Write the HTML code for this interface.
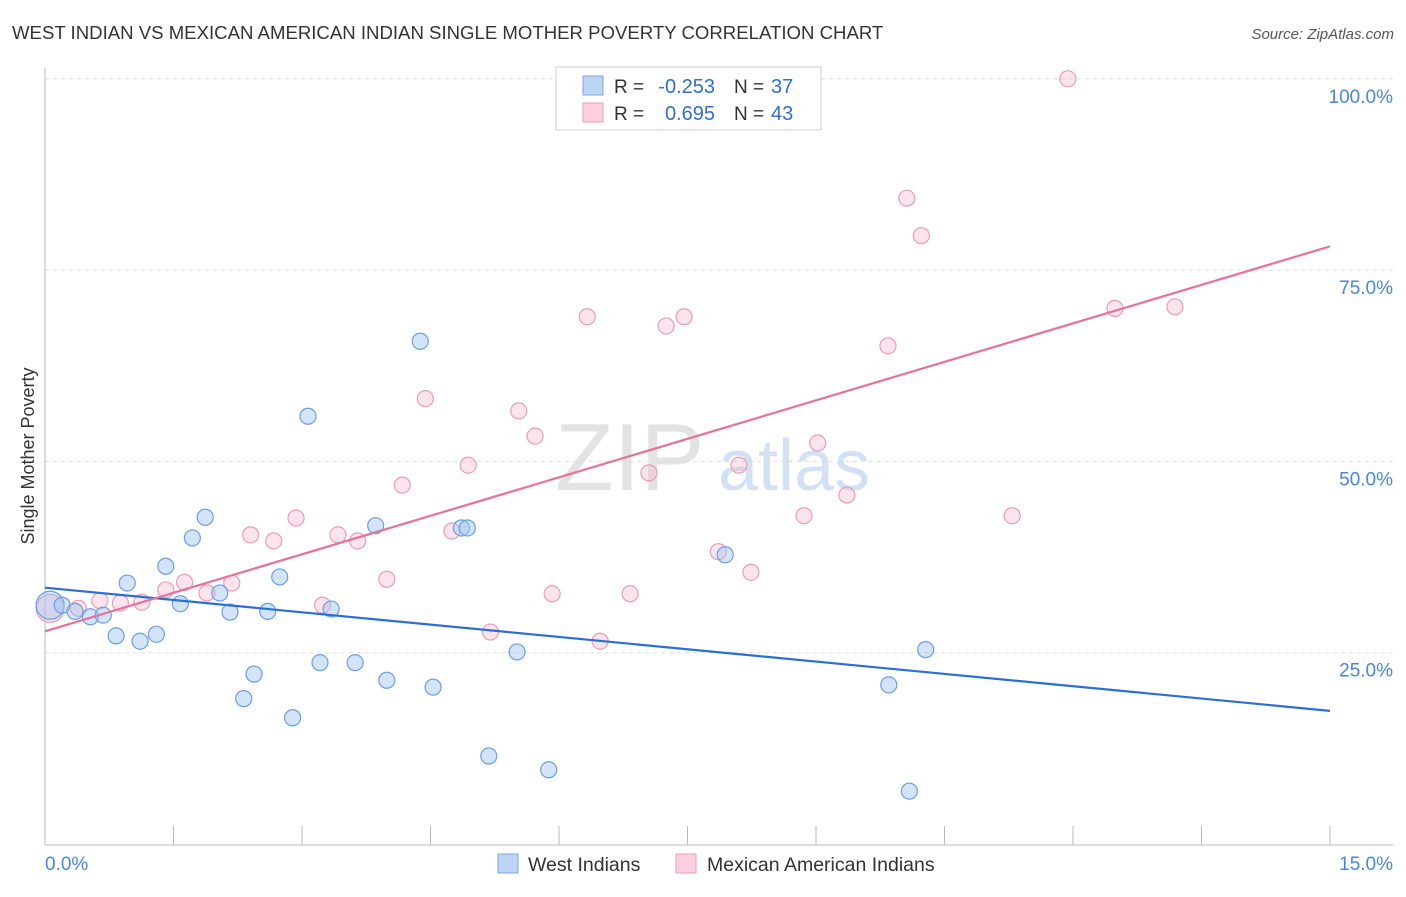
<!DOCTYPE html>
<html><head><meta charset="utf-8"><style>
body{margin:0;background:#fff;font-family:"Liberation Sans",sans-serif;}
svg text{font-family:"Liberation Sans",sans-serif;}
</style></head><body>
<svg id="chart" width="1406" height="892">
<text x="12" y="39" font-size="18.6" fill="#333">WEST INDIAN VS MEXICAN AMERICAN INDIAN SINGLE MOTHER POVERTY CORRELATION CHART</text>
<text x="1394" y="39" font-size="15" fill="#555" text-anchor="end" font-style="italic">Source: ZipAtlas.com</text>
<text x="34" y="456" font-size="18" fill="#333" text-anchor="middle" transform="rotate(-90 34 456)">Single Mother Poverty</text>
<g><text x="555" y="490" font-size="96" fill="#ddd" font-family="Liberation Serif" opacity="0.8">ZIP</text><text x="718" y="490" font-size="72" fill="#c9daf3" opacity="0.8">atlas</text></g>
<g id="grid"></g><g id="axes"></g><g id="marks"></g>
<g>
<rect x="556" y="67" width="265" height="63" fill="#fff" stroke="#ccc"/>
<rect x="583" y="76" width="20" height="19" fill="#bcd5f5" stroke="#7aa7e3"/>
<rect x="583" y="103" width="20" height="19" fill="#fbcfdd" stroke="#ea9db8"/>
<text x="614" y="93" font-size="19" fill="#333">R =</text>
<text x="715" y="93" font-size="20" fill="#2f6fd0" text-anchor="end">-0.253</text>
<text x="734" y="93" font-size="19" fill="#333">N =</text>
<text x="771" y="93" font-size="20" fill="#2f6fd0">37</text>
<text x="614" y="120" font-size="19" fill="#333">R =</text>
<text x="715" y="120" font-size="20" fill="#2f6fd0" text-anchor="end">0.695</text>
<text x="734" y="120" font-size="19" fill="#333">N =</text>
<text x="771" y="120" font-size="20" fill="#2f6fd0">43</text>
</g>
<g>
<rect x="498" y="854" width="20" height="19" fill="#bcd5f5" stroke="#7aa7e3"/>
<text x="528" y="871" font-size="19.5" fill="#333">West Indians</text>
<rect x="676" y="854" width="20" height="19" fill="#fbcfdd" stroke="#ea9db8"/>
<text x="707" y="871" font-size="19.5" fill="#333">Mexican American Indians</text>
</g>
</svg>
<script>
const blueX=[0.06,0.20,0.35,0.53,0.68,0.83,0.96,1.11,1.30,1.41,1.58,1.72,1.87,2.04,2.16,2.32,2.44,2.60,2.74,2.89,3.07,3.21,3.34,3.62,3.86,3.99,4.38,4.53,4.86,4.93,5.18,5.51,5.88,7.94,9.85,10.09,10.28];
const blueY=[31.2,31.2,30.4,29.7,29.9,27.2,34.1,26.5,27.4,36.3,31.4,40.0,42.7,32.8,30.3,19.0,22.2,30.4,34.9,16.5,55.9,23.7,30.7,23.7,41.6,21.4,65.7,20.5,41.3,41.3,11.5,25.1,9.7,37.8,20.8,6.9,25.4];
const pinkX=[0.06,0.39,0.64,0.88,1.13,1.41,1.63,1.89,2.18,2.40,2.67,2.93,3.24,3.42,3.65,3.99,4.17,4.44,4.75,4.94,5.20,5.53,5.72,5.92,6.33,6.48,6.83,7.05,7.25,7.46,7.86,8.10,8.24,8.86,9.02,9.36,9.84,10.06,10.23,11.29,11.94,12.49,13.19];
const pinkY=[30.8,30.8,31.8,31.5,31.6,33.2,34.2,32.8,34.1,40.4,39.6,42.6,31.2,40.4,39.6,34.6,46.9,58.2,40.9,49.5,27.7,56.6,53.3,32.7,68.9,26.5,32.7,48.5,67.7,68.9,38.2,49.5,35.5,42.9,52.4,45.6,65.1,84.4,79.5,42.9,100,70.0,70.2];
const blueTrend=[33.5,17.4];
const pinkTrend=[27.8,78.1];
const yTicks=[25,50,75,100];
const yTickLabels=["25.0%","50.0%","75.0%","100.0%"];
const NS="http://www.w3.org/2000/svg";
const sx=v=>45+v*(1285/15), sy=v=>844-v*7.652;
function mk(p,tag,attrs){const e=document.createElementNS(NS,tag);for(const k in attrs)e.setAttribute(k,attrs[k]);document.getElementById(p).appendChild(e);return e;}
yTicks.forEach((t,i)=>{
 const l=mk('grid','line',{x1:45,x2:1393,y1:sy(t),y2:sy(t),stroke:'#ddd','stroke-dasharray':'4,4'});
 
 
 const tx=mk('grid','text',{x:1393,y:sy(t)+24,'font-size':19,fill:'#4a86dc','text-anchor':'end'});
 tx.textContent=yTickLabels[i];
 
 
});
let a=mk('axes','line',{x1:45,x2:45,y1:68,y2:845,stroke:'#bbb'});


a=mk('axes','line',{x1:45,x2:1393,y1:845,y2:845,stroke:'#bbb'});


for(let i=0;i<=10;i++){const t=mk('axes','line',{x1:sx(i*1.5),x2:sx(i*1.5),y1:826,y2:845,stroke:'#bbb'});
 
 }
let xl=mk('axes','text',{x:45,y:870,'font-size':19,fill:'#4a86dc'});xl.textContent='0.0%';


xl=mk('axes','text',{x:1393,y:870,'font-size':19,fill:'#4a86dc','text-anchor':'end'});xl.textContent='15.0%';


function pts(X,Y,fill,stroke,name){X.forEach((x,i)=>{const c=mk('marks','circle',{cx:sx(x),cy:sy(Y[i]),r:i==0?14:8,fill:fill,stroke:stroke,'stroke-width':1.2});
 
 });}
pts(pinkX,pinkY,'rgba(246,178,200,0.35)','#e99cb7','mexican-american-indian-point');
pts(blueX,blueY,'rgba(160,195,240,0.45)','#6a9fe2','west-indian-point');
let tl=mk('marks','line',{x1:sx(0),x2:sx(15),y1:sy(blueTrend[0]),y2:sy(blueTrend[1]),stroke:'#2a6fd6','stroke-width':2.2});


tl=mk('marks','line',{x1:sx(0),x2:sx(15),y1:sy(pinkTrend[0]),y2:sy(pinkTrend[1]),stroke:'#e8709a','stroke-width':2.2});


</script>
</body></html>
